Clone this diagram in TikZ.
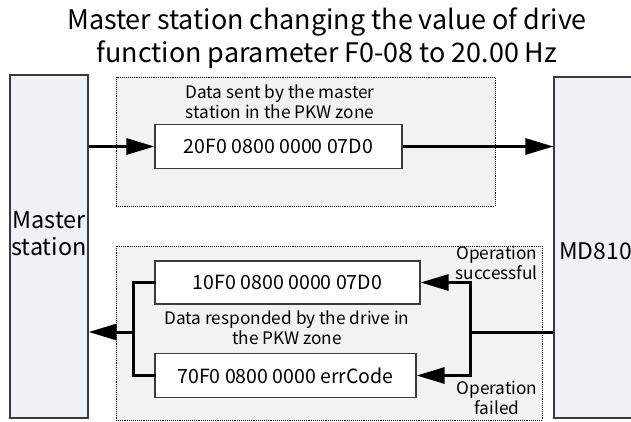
\documentclass[tikz,border=0pt]{standalone}
\usepackage{fontspec}
\setmainfont{Noto Sans CJK SC}
\usetikzlibrary{arrows.meta,positioning}
\definecolor{Estacion}{HTML}{EEF1F6}
\definecolor{Zona}{HTML}{F2F2F2}
\definecolor{Borde}{HTML}{3A3A3A}

\begin{document}
\begin{tikzpicture}[
  x=1bp,y=-1bp,
  estacion/.style={draw=Borde,line width=1.2bp,fill=Estacion,inner sep=0pt},
  zona/.style={draw=black,densely dotted,line width=0.9bp,fill=Zona,inner sep=0pt},
  trama/.style={draw=Borde,line width=1.2bp,fill=white,inner sep=0pt,font=\fontsize{19.6}{22}\selectfont},
  texto/.style={align=center,inner sep=0pt,font=\fontsize{17.3}{20}\selectfont},
  gruesa/.style={line width=3bp},
  flecha/.style={gruesa,-{Triangle[length=28bp,width=16bp]}}
]
  \useasboundingbox (0,0) rectangle (631,421);
  % Titulo
  \node[align=center,inner sep=0pt,font=\fontsize{27}{33}\selectfont] (titulo) at (327,38)
    {Master station changing the value of drive\\function parameter F0-08 to 20.00 Hz};

  % Estaciones a ambos lados
  \node[estacion,minimum width=78bp,minimum height=343bp] (maestro) at (49,246.5) {};
  \node[texto,font=\fontsize{23.5}{27}\selectfont] (maestrotxt) at (49,234) {Master\\station};
  \node[estacion,minimum width=120bp,minimum height=341bp] (drive) at (614,247.5) {};
  \node[texto,anchor=west,font=\fontsize{23}{26}\selectfont] (drivetxt) at (559,251) {MD810};

  % Zona PKW de envio
  \node[zona,minimum width=379bp,minimum height=129bp] (zonasup) at (305.5,141.5) {};
  \node[texto] (enviotxt) at (280,102) {Data sent by the master\\station in the PKW zone};
  \node[trama,minimum width=247bp,minimum height=44bp] (envio) at (278.5,146.5) {20F0 0800 0000 07D0};
  \draw[flecha] (maestro.east |- envio.west) -- (envio.west);
  \draw[flecha] (envio.east) -- (drive.west |- envio.east);

  % Zona PKW de respuesta
  \node[zona,minimum width=426bp,minimum height=174bp] (zonainf) at (329,333) {};
  \node[trama,minimum width=265bp,minimum height=43bp] (ok) at (287.5,282.5) {10F0 0800 0000 07D0};
  \node[trama,minimum width=261bp,minimum height=44bp] (err) at (285.5,375.5) {70F0 0800 0000 errCode};
  \node[texto] (respuestatxt) at (287,328) {Data responded by the drive in\\the PKW zone};
  \node[texto,anchor=east] (oktxt) at (538,263) {Operation\\successful};
  \node[texto] (errtxt) at (497,398) {Operation\\failed};

  \coordinate (derecha) at (470,332);
  \coordinate (izquierda) at (133,332);
  \draw[gruesa] (drive.west |- derecha) -- (derecha);
  \draw[flecha] (derecha) |- (ok.east);
  \draw[flecha] (derecha) |- (err.east);
  \draw[gruesa,line cap=rect] (ok.west) -| (izquierda) |- (err.west);
  \draw[flecha] (izquierda) -- (maestro.east |- izquierda);
\end{tikzpicture}
\end{document}
